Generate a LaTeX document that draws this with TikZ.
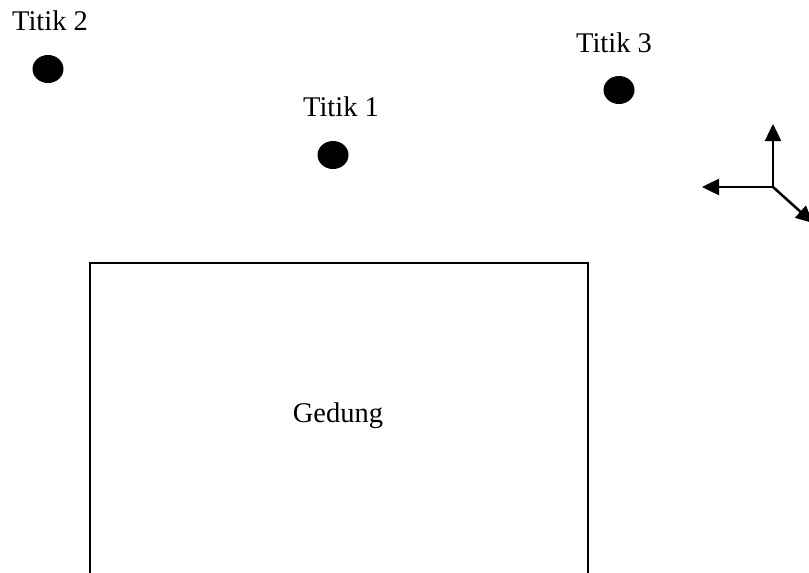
\documentclass[tikz,border=0pt]{standalone}
\usepackage{fontspec}
\setmainfont{Liberation Serif}
\usetikzlibrary{arrows.meta,shapes.geometric}
\begin{document}
\begin{tikzpicture}[x=1pt,y=-1pt,
  lbl/.style={anchor=base,inner sep=0pt,font=\fontsize{28.5}{34}\selectfont},
  dot/.style={fill=black,draw=none,ellipse,minimum width=31pt,minimum height=28pt,inner sep=0pt},
  axis/.style={line width=2.5pt,-{Triangle[length=17pt,width=16pt]}},
  wall/.style={line width=2pt}]
\useasboundingbox (0,0) rectangle (809,573);
\clip (0,0) rectangle (809,573);
% points
\node[dot] (d2) at (48,69) {};
\node[dot] (d1) at (333,155) {};
\node[dot] (d3) at (619,90) {};
\node[lbl] (t2) at (50,30) {Titik 2};
\node[lbl] (t1) at (341,116) {Titik 1};
\node[lbl] (t3) at (614,52) {Titik 3};
% building
\draw[wall] (90,580) -- (90,263) -- (588,263) -- (588,580);
\node[lbl] (g) at (338,422) {Gedung};
% axes
\coordinate (o) at (773,187);
\coordinate (up) at (773,124);
\coordinate (lf) at (702,187);
\coordinate (dg) at (813,223);
\draw[axis] (o) -- (up);
\draw[axis] (o) -- (lf);
\draw[axis] (o) -- (dg);
\end{tikzpicture}
\end{document}
